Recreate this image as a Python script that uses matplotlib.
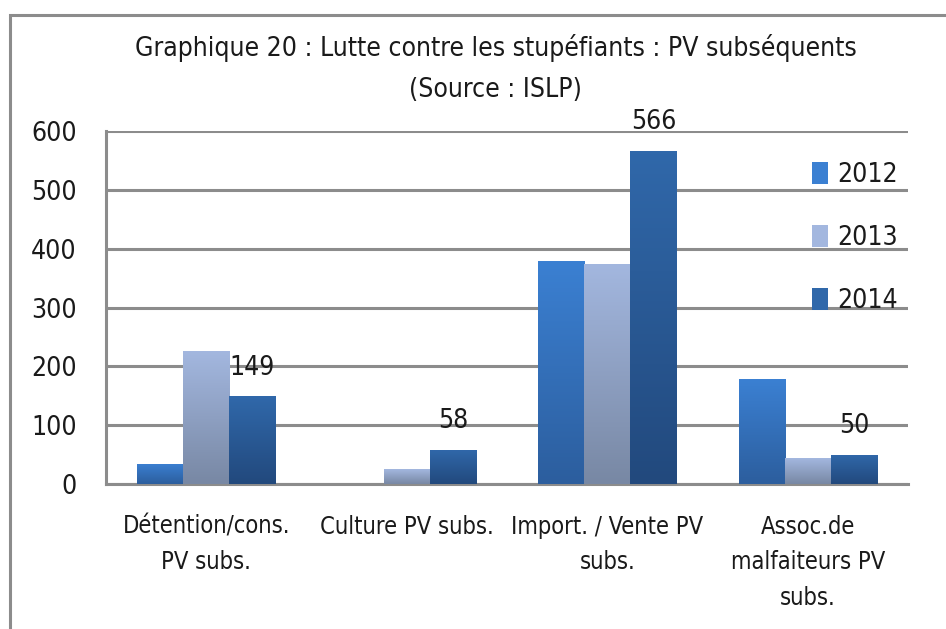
import numpy as np
import matplotlib as mpl
mpl.use("Agg")
import matplotlib.pyplot as plt
from matplotlib.patches import Rectangle, Patch

categories = ["Détention/cons.\nPV subs.", "Culture PV subs.", "Import. / Vente PV\nsubs.",
              "Assoc.de\nmalfaiteurs PV\nsubs."]
years = ["2012", "2013", "2014"]
v2012 = [34, 0, 379, 178]
v2013 = [226, 25, 374, 44]
v2014 = [149, 58, 566, 50]
series = [v2012, v2013, v2014]

# gradient colours (top, bottom) for each series
grads = [("#3b80d2", "#2c5e9e"), ("#a3b7df", "#7888a4"), ("#3068aa", "#22497d")]

plt.rcParams['font.family'] = ['DejaVu Sans']
plt.rcParams['font.stretch'] = 'condensed'

fig = plt.figure(figsize=(9.46, 6.29), dpi=100)
# outer frame of the chart
fig.patches.append(Rectangle((9.5/946, -0.1), 1.2, (629 - 14.5) / 629 + 0.1, transform=fig.transFigure,
                             fill=False, edgecolor="#8c8c8c", linewidth=2.2))

ax = fig.add_axes([106/946, 145/629, 802/946, 353/629])
x = np.arange(len(categories))
w = 0.23

for i, vals in enumerate(series):
    top, bot = grads[i]
    cmap = mpl.colors.LinearSegmentedColormap.from_list("g%d" % i, [bot, top])
    bars = ax.bar(x + (i - 1) * w, vals, w, color=top, label=years[i], zorder=3)
    for b in bars:
        h = b.get_height()
        if h <= 0:
            continue
        grad = np.linspace(0, 1, 100).reshape(-1, 1)
        im = ax.imshow(grad, cmap=cmap, origin="lower", aspect="auto",
                       extent=[b.get_x(), b.get_x() + b.get_width(), 0, h], zorder=3.5)
        im.set_clip_path(b)
    if i == 2:
        for xi, v in zip(x, vals):
            ax.text(xi + w, v + 37, str(v), ha="center", va="baseline", fontsize=19, color="#1a1a1a", zorder=5)

ax.set_xlim(-0.5, 3.5)
ax.set_ylim(0, 600)
ax.set_yticks(range(0, 601, 100))
ax.set_xticks(x)
ax.set_xticklabels(categories, fontsize=17, linespacing=1.62, color="#1a1a1a")
ax.tick_params(axis="y", length=0, pad=21, labelsize=19, labelcolor="#1a1a1a")
ax.tick_params(axis="x", length=0, pad=22)
ax.grid(axis="y", color="#8c8c8c", linewidth=2.2, zorder=0)
ax.set_axisbelow(True)
for s in ["top", "right"]:
    ax.spines[s].set_visible(False)
ax.spines["left"].set_color("#8c8c8c")
ax.spines["left"].set_linewidth(2.2)
ax.spines["bottom"].set_color("#8c8c8c")
ax.spines["bottom"].set_linewidth(2.2)

handles = [Patch(facecolor=g[0], edgecolor="none") for g in grads]
leg = ax.legend(handles, years, loc="upper left", bbox_to_anchor=(0.851, 0.98), frameon=False,
                fontsize=19, handlelength=0.6, handleheight=0.9, handletextpad=0.35, labelspacing=1.4)
for t in leg.get_texts():
    t.set_color("#1a1a1a")

fig.text(0.524, 1 - 48/629, "Graphique 20 : Lutte contre les stupéfiants : PV subséquents",
         ha="center", va="center", fontsize=19, color="#1a1a1a")
fig.text(0.524, 1 - 90/629, "(Source : ISLP)", ha="center", va="center", fontsize=19, color="#1a1a1a")

fig.savefig("out.png", dpi=100)
